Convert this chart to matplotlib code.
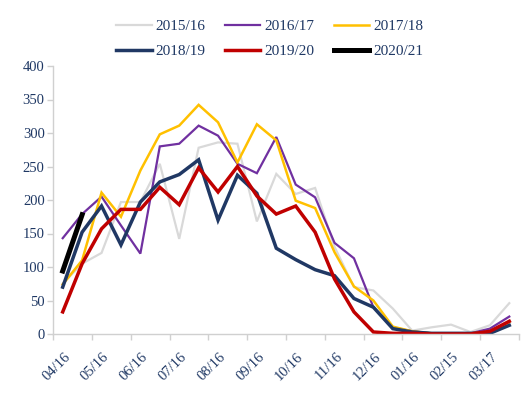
import matplotlib
matplotlib.use("Agg")
import matplotlib.pyplot as plt
import numpy as np

plt.rcParams['font.family'] = ['Liberation Serif', 'DejaVu Serif']

tick_labels = ["04/16", "05/16", "06/16", "07/16", "08/16", "09/16",
               "10/16", "11/16", "12/16", "01/16", "02/15", "03/17"]

s2015 = [75, 105, 121, 197, 197, 254, 142, 278, 286, 284, 168, 239,
         209, 218, 130, 70, 65, 38, 5, 10, 14, 3, 13, 46]
s2016 = [143, 179, 205, 162, 120, 280, 284, 311, 296, 254, 240, 294,
         223, 204, 136, 113, 40, 10, 4, 1, 1, 1, 8, 26]
s2017 = [74, 110, 211, 175, 244, 298, 311, 342, 316, 256, 313, 289,
         199, 188, 122, 71, 50, 11, 4, 1, 1, 1, 3, 18]
s2018 = [70, 152, 191, 133, 197, 227, 238, 260, 170, 237, 210, 128,
         111, 96, 87, 53, 40, 8, 3, 1, 1, 1, 1, 13]
s2019 = [33, 105, 157, 186, 186, 219, 193, 248, 212, 250, 206, 179,
         191, 152, 82, 33, 3, 1, 1, 0, 0, 0, 4, 19]
s2020 = [94, 178]

series = [
    ("2015/16", s2015, "#d9d9d9", 1.6),
    ("2016/17", s2016, "#7030a0", 1.6),
    ("2017/18", s2017, "#ffc000", 1.8),
    ("2018/19", s2018, "#203864", 2.5),
    ("2019/20", s2019, "#c00000", 2.5),
    ("2020/21", s2020, "#000000", 3.6),
]

txt = "#1f3864"
fig = plt.figure(figsize=(5.31, 3.94), dpi=100)
ax = fig.add_axes([53/531, 1-334/394, (519-53)/531, (334-66)/394])

handles = []
for name, vals, col, lw in series:
    h, = ax.plot(np.arange(len(vals)), vals, color=col, lw=lw, label=name,
                 solid_joinstyle='miter')
    handles.append(h)

ax.set_xlim(-0.5, 23.5)
ax.set_ylim(0, 400)
ax.set_yticks(np.arange(0, 401, 50))
ax.set_xticks(np.arange(-0.5, 24, 2))
ax.set_xticklabels([])
for i, lab in enumerate(tick_labels):
    ax.text(2*i + 0.05, -24, lab, rotation=45, ha='right', va='top',
            rotation_mode='anchor', fontsize=10.5, color=txt,
            transform=ax.transData, clip_on=False)

for sp in ['top', 'right']:
    ax.spines[sp].set_visible(False)
for sp in ['left', 'bottom']:
    ax.spines[sp].set_color('#d0d0d0')
    ax.spines[sp].set_linewidth(1.0)
ax.tick_params(axis='y', colors='#d0d0d0', labelcolor=txt, labelsize=10.5,
               length=4, width=1, pad=2)
ax.tick_params(axis='x', colors='#d0d0d0', length=4, width=1)

order = [0, 3, 1, 4, 2, 5]
fig.legend([handles[i] for i in order], [series[i][0] for i in order],
           loc='center', bbox_to_anchor=(0.508, 0.901), ncol=3, frameon=False,
           fontsize=11, handlelength=2.3, handletextpad=0.25,
           columnspacing=1.3, labelspacing=0.75, labelcolor=txt)

fig.savefig("out.png", dpi=100)
